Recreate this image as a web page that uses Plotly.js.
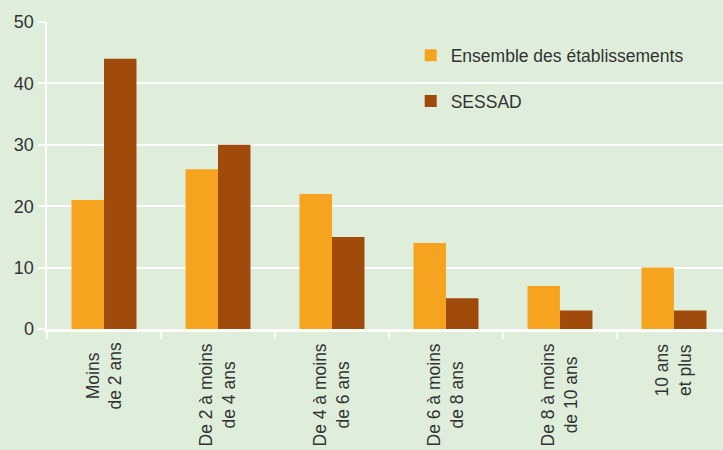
<!DOCTYPE html>
<html>
<head>
<meta charset="utf-8">
<script src="https://cdn.plot.ly/plotly-3.0.1.min.js"></script>
<style>
  html, body { margin: 0; padding: 0; background: #dfeedb; }
  #chart { width: 723px; height: 450px; }
</style>
</head>
<body>
<div id="chart"></div>
<script>
const categories = ['Moins<br>de 2 ans', 'De 2 à moins<br>de 4 ans', 'De 4 à moins<br>de 6 ans',
    'De 6 à moins<br>de 8 ans', 'De 8 à moins<br>de 10 ans', '10 ans<br>et plus'];
const ensemble = [21, 26, 22, 14, 7, 10];
const sessad = [44, 30, 15, 5, 3, 3];
const seriesNames = ['Ensemble des établissements', 'SESSAD'];

const FONT = '"Liberation Sans", Arial, sans-serif';
const bg = '#dfeedb';

const traces = [
    {
        name: seriesNames[0],
        type: 'bar',
        x: categories,
        y: ensemble,
        marker: { color: '#f6a41f' },
        legendgroup: 'a',
        hoverinfo: 'y'
    },
    {
        name: seriesNames[1],
        type: 'bar',
        x: categories,
        y: sessad,
        marker: { color: '#a04a0c' },
        legendgroup: 'b',
        hoverinfo: 'y'
    }
];

// category labels, rotated, lines centred on each other
const annotations = categories.map(c => ({
    x: c,
    xref: 'x',
    y: 0,
    yref: 'paper',
    yshift: -12,
    yanchor: 'top',
    xanchor: 'center',
    text: c,
    textangle: -90,
    align: 'center',
    showarrow: false,
    font: { family: FONT, size: 17.5, color: '#333333' }
}));

const layout = {
    width: 723,
    height: 450,
    paper_bgcolor: bg,
    plot_bgcolor: bg,
    font: { family: FONT, size: 17.5, color: '#333333' },
    margin: { l: 47, r: 0, t: 22, b: 121 },
    barmode: 'group',
    bargap: 0.43,
    bargroupgap: 0,
    showlegend: true,
    legend: {
        x: 0.538,
        y: 0.95,
        xanchor: 'left',
        yanchor: 'top',
        bgcolor: 'rgba(0,0,0,0)',
        traceorder: 'grouped',
        tracegroupgap: 20,
        font: { family: FONT, size: 17.5, color: '#333333' }
    },
    xaxis: {
        type: 'category',
        range: [-0.5, 5.43],
        showticklabels: false,
        showline: true,
        linecolor: '#ffffff',
        linewidth: 2.5,
        ticks: 'outside',
        tickson: 'boundaries',
        ticklen: 7,
        tickwidth: 2,
        tickcolor: '#ffffff',
        showgrid: false,
        fixedrange: true
    },
    yaxis: {
        range: [0, 50],
        dtick: 10,
        showline: true,
        linecolor: '#ffffff',
        linewidth: 2.5,
        ticks: 'outside',
        ticklen: 7,
        tickwidth: 2,
        tickcolor: '#ffffff',
        gridcolor: '#ffffff',
        gridwidth: 2,
        zeroline: false,
        tickfont: { family: FONT, size: 18, color: '#333333' },
        fixedrange: true
    },
    annotations: annotations
};

Plotly.newPlot('chart', traces, layout, { displayModeBar: false, staticPlot: true });
</script>
</body>
</html>
